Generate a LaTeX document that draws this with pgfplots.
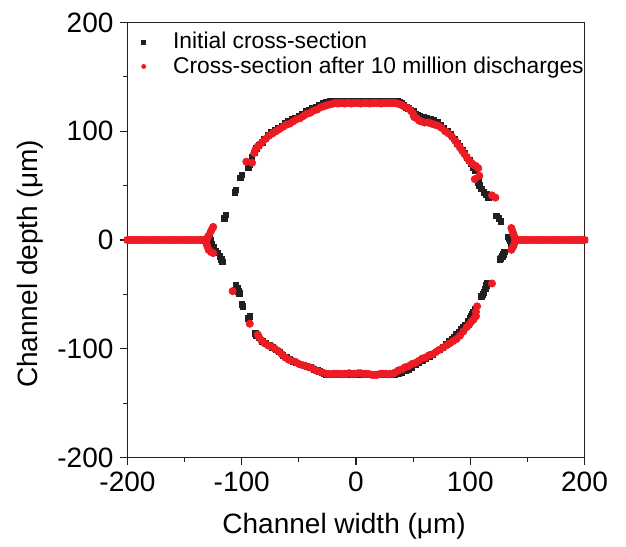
\documentclass[border=0pt]{standalone}
\usepackage{pgfplots}
\pgfplotsset{compat=1.18}
\usepackage{fontspec}
\setmainfont{Liberation Sans}
\definecolor{initblack}{RGB}{35,31,32}
\definecolor{wornred}{RGB}{237,28,36}
\begin{document}
\begin{tikzpicture}
\useasboundingbox (-63.75pt,-44.25pt) rectangle (249.25pt,228.75pt);
\begin{axis}[
  scale only axis,
  width=228.5pt, height=217.5pt,
  xmin=-200, xmax=200, ymin=-200, ymax=200,
  xtick={-200,-100,0,100,200},
  ytick={-200,-100,0,100,200},
  minor tick num=1,
  tick align=outside,
  xtick pos=bottom, ytick pos=left,
  major tick length=3.5pt, minor tick length=2pt,
  tick style={initblack, line width=0.6pt},
  axis line style={initblack, line width=0.6pt},
  /pgf/number format/assume math mode=true,
  ticklabel style={font=\fontsize{14}{16}\selectfont},
  label style={font=\fontsize{14}{16}\selectfont},
  xlabel={Channel width (μm)},
  ylabel={Channel depth (μm)},
  x label style={at={(axis description cs:0.474,-0.1575)}, anchor=center},
  y label style={at={(axis description cs:-0.213,0.445)}, anchor=center, rotate=0},
  legend style={at={(0.015,0.997)}, anchor=north west, draw=none, fill=none,
    font=\fontsize{11.4}{13}\selectfont, row sep=-1.5pt, inner sep=2pt,
    legend cell align=left},
  legend image code/.code={\path (0,0) (0.52cm,0);\draw[mark size=1pt] plot coordinates {(0.08cm,0cm)};},
]
% initial profile of the channel
\addplot[only marks, mark=square*, mark size=1.4pt, color=initblack] coordinates {
(-200,0)(-198,0)(-196,0)(-194,0)(-192,0)(-190,0)(-188,0)(-186,0)(-184,0)(-182,0)
(-180,0)(-178,0)(-176,0)(-174,0)(-172,0)(-170,0)(-168,0)(-166,0)(-164,0)(-162,0)
(-160,0)(-158,0)(-156,0)(-154,0)(-152,0)(-150,0)(-148,0)(-146,0)(-144,0)(-142,0)
(-140,0)(-138,0)(-136,0)(-134,0)(-132,0)(-130,0)
(-128,2)(-127,0)(-126,-4)(-125,-7)(-123,-10)(-121,-12)(-119,-15)(-118,-18)
(-115,20)(-114,23)(-106,44)(-105,46)(-101,57)(-100,60)(-94,67)(-93,69)
(-91,76)(-89,80)(-87,84)(-85,87)(-82,90)(-80,93)(-77,96)(-74,99)(-71,101)(-68,103)
(-65,105)(-62,107)(-59,109)(-56,111)(-53,112)(-50,114)(-47,116)(-44,118)(-41,119)
(-38,121)(-35,122)(-32,124)(-29,126)(-26,127)(-23,128)
(-20,128)(-18,128)(-16,128)(-14,128)(-12,128)(-10,128)(-8,128)(-6,128)(-4,128)(-2,128)
(0,128)(2,128)(4,128)(6,128)(8,128)(10,128)(12,128)(14,128)(16,128)(18,128)
(20,128)(22,128)(24,128)(26,128)(28,128)(30,128)(32,128)(34,128)(36,128)
(38,127)(40,126)(42,124)(44,122)(46,121)(48,119)(50,118)(52,116)(54,115)(56,114)
(59,113)(62,112)(65,111)(68,110)(71,108)(74,106)(77,103)(80,100)(83,97)(86,93)
(89,89)(91,86)(93,83)(95,80)(97,76)(99,73)(101,70)
(103,67)(104,64)(107,53)(108,50)(110,47)(112,44)(114,42)(116,39)(123,22)(125,20)(127,17)
(133,3)(134,1)(135,-1)(136,-3)
(138,0)(140,0)(142,0)(144,0)(146,0)(148,0)(150,0)(152,0)(154,0)(156,0)(158,0)
(160,0)(162,0)(164,0)(166,0)(168,0)(170,0)(172,0)(174,0)(176,0)(178,0)
(180,0)(182,0)(184,0)(186,0)(188,0)(190,0)(192,0)(194,0)(196,0)(198,0)(200,0)
(130,-11)(129,-13)(128,-15)(127,-17)(126,-18)(115,-40)(114,-42)(113,-45)(112,-48)
(111,-50)(110,-52)(104,-64)(103,-66)(102,-68)(101,-70)
(100,-72)(98,-75)(96,-78)(94,-80)(92,-82)(90,-85)(88,-87)(86,-89)(84,-91)(82,-93)
(79,-96)(76,-99)(73,-101)(70,-103)(67,-105)(64,-107)(61,-109)(58,-111)(55,-113)
(52,-115)(49,-117)(46,-119)(43,-120)(40,-122)(37,-123)(34,-124)
(32,-124)(30,-124)(28,-124)(26,-124)(24,-124)(22,-124)(20,-124)(18,-124)(16,-124)
(14,-124)(12,-124)(10,-124)(8,-124)(6,-124)(4,-124)(2,-124)(0,-124)(-2,-124)
(-4,-124)(-6,-124)(-8,-124)(-10,-124)(-12,-124)(-14,-124)(-16,-124)(-18,-124)
(-20,-124)(-22,-124)(-24,-124)
(-26,-124)(-28,-123)(-30,-122)(-32,-121)(-34,-120)(-37,-119)(-40,-117)(-43,-116)
(-46,-115)(-49,-114)(-52,-113)(-55,-112)(-58,-110)(-61,-108)(-64,-106)(-67,-103)
(-70,-101)(-73,-99)(-76,-97)(-79,-95)(-82,-93)(-85,-90)(-87,-88)(-88,-86)
(-93,-70)(-94,-72)(-99,-61)(-100,-59)(-102,-49)(-103,-47)(-104,-44)(-105,-42)
(-117,-20)(-118,-18)
};
\addlegendentry{Initial cross-section}
% profile after 10 million discharges
\addplot[only marks, mark=*, mark size=1.8pt, color=wornred, mark options={draw=wornred, fill=wornred}] coordinates {
(-200,0)(-198,0)(-196,0)(-194,0)(-192,0)(-190,0)(-188,0)(-186,0)(-184,0)(-182,0)
(-180,0)(-178,0)(-176,0)(-174,0)(-172,0)(-170,0)(-168,0)(-166,0)(-164,0)(-162,0)
(-160,0)(-158,0)(-156,0)(-154,0)(-152,0)(-150,0)(-148,0)(-146,0)(-144,0)(-142,0)
(-140,0)(-138,0)(-136,0)(-134,0)
(-125,12)(-126,10)(-127,8)(-129,4)(-130,2)(-131,0)(-131,-3)(-130,-6)(-129,-9)
(-127,-11)(-125,-12)
(-96,72)(-91,71)
(-89,80)(-88,83)(-86,86)(-84,88)(-82,90)(-79,93)(-76,96)(-73,98)(-70,100)(-67,102)
(-64,104)(-61,106)(-58,107)(-55,109)(-52,111)(-49,112)(-46,114)(-43,116)(-40,117)
(-37,119)(-34,120)(-31,122)(-28,123)(-25,124)(-22,125)
(-20,125.5)(-18,126)(-16,125.5)(-14,126)(-12,126)(-10,125.5)(-8,126)(-6,126)
(-4,125.5)(-2,126)(0,126)(2,126)(4,125.5)(6,126)(8,126)(10,126)(12,125.5)(14,126)
(16,126)(18,126)(20,126)(22,125.5)(24,126)(26,126)(28,126)(30,126)(32,126)
(34,126)(36,125.5)
(38,125)(40,124)(42,123)(44,122)(46,121)(48,119)(50,116)(51,113)(53,112)(55,110)
(57,109)(60,108)(63,108)(66,107)(69,106)(72,105)(75,103)(78,100)(81,98)(84,95)
(87,91)(89,88)(91,85)(93,82)(95,79)(97,76)(99,73)(101,71)(103,69)(105,68)(107,66)
(104,56)(108,59)(119,41)(122,39)
(136,11)(137,8)(138,5)(139,2)
(140,0)(142,0)(144,0)(146,0)(148,0)(150,0)(152,0)(154,0)(156,0)(158,0)
(160,0)(162,0)(164,0)(166,0)(168,0)(170,0)(172,0)(174,0)(176,0)(178,0)
(180,0)(182,0)(184,0)(186,0)(188,0)(190,0)(192,0)(194,0)(196,0)(198,0)(200,0)
(139,-2)(138,-5)(137,-7)(136,-9)
(119,-40)(106,-61)(105,-66)(105,-70)
(103,-73)(101,-75)(99,-78)(97,-80)(94,-84)(91,-88)(88,-91)(85,-93)(82,-95)(79,-97)
(76,-99)(73,-101)(70,-103)(67,-105)(64,-106)(61,-108)(58,-109)(55,-111)(52,-113)
(49,-114)(46,-116)(43,-117)(40,-119)(37,-120)(34,-122)(32,-123)
(30,-123)(28,-123.5)(26,-123)(24,-123)(22,-123)(20,-123.5)(18,-124)(16,-124)
(14,-124)(12,-123.5)(10,-123)(8,-123)(6,-123)(4,-122.5)(2,-122.5)(0,-123)(-2,-123)
(-4,-123)(-6,-122.5)(-8,-123)(-10,-123)(-12,-123.5)(-14,-123)(-16,-123)(-18,-123)
(-20,-123)(-22,-123.5)(-24,-123)
(-26,-123)(-29,-122)(-32,-121)(-35,-120)(-38,-118)(-41,-117)(-44,-116)(-47,-115)
(-50,-114)(-53,-112)(-56,-111)(-59,-110)(-62,-108)(-65,-105)(-68,-102)(-71,-100)
(-74,-98)(-77,-97)(-80,-95)(-83,-92)(-85,-89)(-86,-87)
(-93,-77)(-108,-47)
};
\addlegendentry{Cross-section after 10 million discharges}
\end{axis}
\end{tikzpicture}
\end{document}
